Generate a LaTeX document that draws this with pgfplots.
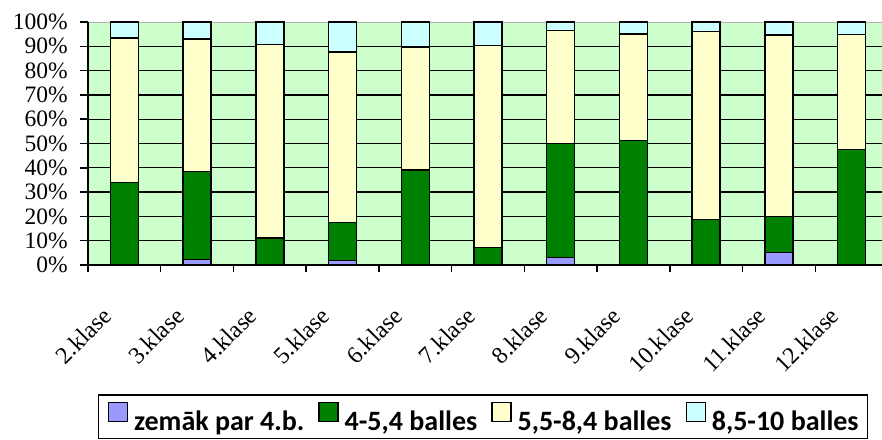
\documentclass[border=0pt]{standalone}
\usepackage{fontspec}
\setmainfont{Liberation Serif}
\newfontfamily\legfont{Carlito}
\usepackage{pgfplots}
\pgfplotsset{compat=1.18}
\definecolor{cbg}{HTML}{CCFFCC}
\definecolor{c1}{HTML}{9999FF}
\definecolor{c2}{HTML}{008000}
\definecolor{c3}{HTML}{FFFFCC}
\definecolor{c4}{HTML}{CCFFFF}
\pgfplotsset{sq/.style={legend image code/.code={\draw[##1,line width=1.3pt,draw=black] (0pt,-0.5pt) rectangle (19pt,18.5pt);}}}
\newcommand{\rl}[1]{\rotatebox{45}{#1}}
\begin{document}
\begin{tikzpicture}
\useasboundingbox (0,0) rectangle (882pt,439pt);
\clip (0,0) rectangle (882pt,439pt);
\begin{axis}[
 at={(88pt,174pt)}, anchor=south west,
 scale only axis, width=800pt, height=243pt,
 xmin=-0.5, xmax=10.5, ymin=0, ymax=100,
 ybar stacked, bar width=28pt,
 axis background/.style={fill=cbg, draw=gray!60, line width=0.8pt},
 axis x line*=bottom, axis y line*=left,
 axis line style={-, line width=1.5pt, black},
 xtick={0,...,10},
 xticklabels={\rl{2.klase},\rl{3.klase},\rl{4.klase},\rl{5.klase},\rl{6.klase},\rl{7.klase},\rl{8.klase},\rl{9.klase},\rl{10.klase},\rl{11.klase},\rl{12.klase}},
 major x tick style={draw=none},
 minor xtick={-0.5,0.5,...,10.5},
 minor x tick style={black, line width=1.5pt},
 minor tick length=7pt,
 ytick={0,10,...,90},
 yticklabels={0\%,10\%,20\%,30\%,40\%,50\%,60\%,70\%,80\%,90\%},
 extra y ticks={100}, extra y tick labels={100\%},
 extra y tick style={grid=none, y tick style={black, line width=1.5pt}},
 ymajorgrids, grid style={black, line width=1.3pt},
 y tick style={black, line width=1.5pt}, major tick length=8pt,
 tick align=outside,
 yticklabel style={font=\fontsize{23.5}{24}\selectfont, inner sep=0pt, xshift=-12pt},
 xticklabel style={font=\fontsize{24}{25}\selectfont, inner sep=0pt, anchor=north east, xshift=-11pt, yshift=-32.6pt},
 legend style={at={(axis description cs:0.0125,-0.531)}, anchor=north west,
   legend columns=4, draw=black, line width=1.5pt,
   font=\legfont\bfseries\fontsize{28}{30}\selectfont,
   inner xsep=9pt, inner ysep=7pt, nodes={inner sep=0pt},
   /tikz/every odd column/.append style={column sep=6pt},
   /tikz/every even column/.append style={column sep=14pt}},
 legend cell align=left,
]
\addplot[fill=c1, draw=black, line width=1.5pt, sq] coordinates {(0,0) (1,2.3) (2,0) (3,1.8) (4,0) (5,0) (6,3) (7,0) (8,0) (9,5.2) (10,0)};
\addlegendentry{zemāk par 4.b.}
\addplot[fill=c2, draw=black, line width=1.5pt, sq] coordinates {(0,34) (1,36.2) (2,11.2) (3,15.6) (4,39) (5,7.3) (6,47) (7,51.2) (8,18.8) (9,14.8) (10,47.6)};
\addlegendentry{4-5,4 balles}
\addplot[fill=c3, draw=black, line width=1.5pt, sq] coordinates {(0,59.5) (1,54.5) (2,79.6) (3,70.3) (4,50.7) (5,83.1) (6,46.4) (7,43.8) (8,77.2) (9,74.7) (10,47.2)};
\addlegendentry{5,5-8,4 balles}
\addplot[fill=c4, draw=black, line width=1.5pt, sq] coordinates {(0,6.5) (1,7.0) (2,9.2) (3,12.3) (4,10.3) (5,9.6) (6,3.6) (7,5.0) (8,4.0) (9,5.3) (10,5.2)};
\addlegendentry{8,5-10 balles}
\end{axis}
\end{tikzpicture}
\end{document}
